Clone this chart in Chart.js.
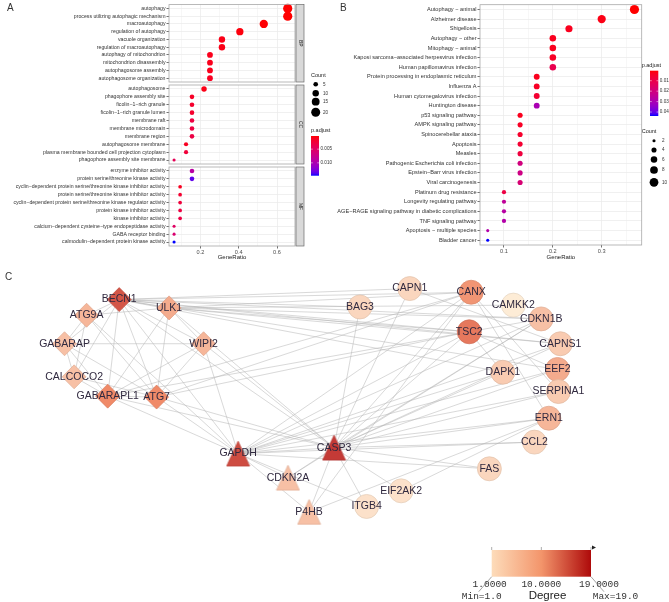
<!DOCTYPE html>
<html><head><meta charset="utf-8">
<script src="https://cdn.jsdelivr.net/npm/chart.js@4.4.0/dist/chart.umd.min.js"></script>
<style>
html,body{margin:0;padding:0;background:#fff;}
#wrap{position:relative;width:669px;height:602px;overflow:hidden;background:#fff;}
#wrap canvas{position:absolute;}
.pl{position:absolute;font-family:'Liberation Sans',Arial,sans-serif;font-size:10px;color:#333;}
</style></head><body>
<div id="wrap">
<canvas id="a1" width="335" height="265" style="left:0;top:0"></canvas>
<canvas id="a2" width="335" height="265" style="left:0;top:0"></canvas>
<canvas id="a3" width="335" height="265" style="left:0;top:0"></canvas>
<canvas id="b" width="334" height="265" style="left:335px;top:0"></canvas>
<canvas id="c" width="669" height="340" style="left:0;top:262px"></canvas>
<div class="pl" style="left:7px;top:2px">A</div>
<div class="pl" style="left:340px;top:2px">B</div>
<div class="pl" style="left:5px;top:271px">C</div>
</div>
<script>
// ---------------- DATA ----------------
const bpTerms = ['autophagy','process utilizing autophagic mechanism','macroautophagy','regulation of autophagy','vacuole organization','regulation of macroautophagy','autophagy of mitochondrion','mitochondrion disassembly','autophagosome assembly','autophagosome organization'];
const bpCount = [21,21,17,13,10,10,8,8,8,8];
const bpRatio = [0.656,0.656,0.531,0.406,0.3125,0.3125,0.25,0.25,0.25,0.25];
const bpPadj  = [0.0002,0.0002,0.0003,0.0005,0.0008,0.0008,0.001,0.001,0.001,0.0012];

const ccTerms = ['autophagosome','phagophore assembly site','ficolin\u22121\u2212rich granule','ficolin\u22121\u2212rich granule lumen','membrane raft','membrane microdomain','membrane region','autophagosome membrane','plasma membrane bounded cell projection cytoplasm','phagophore assembly site membrane'];
const ccCount = [7,5,5,5,5,5,5,4,4,2];
const ccRatio = [0.219,0.156,0.156,0.156,0.156,0.156,0.156,0.125,0.125,0.0625];
const ccPadj  = [0.0008,0.0015,0.0018,0.0018,0.003,0.003,0.0032,0.0012,0.0025,0.0042];

const mfTerms = ['enzyme inhibitor activity','protein serine/threonine kinase activity','cyclin\u2212dependent protein serine/threonine kinase inhibitor activity','protein serine/threonine kinase inhibitor activity','cyclin\u2212dependent protein serine/threonine kinase regulator activity','protein kinase inhibitor activity','kinase inhibitor activity','calcium\u2212dependent cysteine\u2212type endopeptidase activity','GABA receptor binding','calmodulin\u2212dependent protein kinase activity'];
const mfCount = [5,5,3,3,3,3,3,2,2,2];
const mfRatio = [0.156,0.156,0.094,0.094,0.094,0.094,0.094,0.0625,0.0625,0.0625];
const mfPadj  = [0.009,0.0135,0.0012,0.002,0.0026,0.003,0.0032,0.005,0.0058,0.0147];

const aTicks = [0.2,0.4,0.6];
const aMinor = [0.1,0.3,0.5];
const aCountKeys = [5,10,15,20];
const aPadjBreaks = [0.005,0.010];

const keggTerms = ['Autophagy \u2212 animal','Alzheimer disease','Shigellosis','Autophagy \u2212 other','Mitophagy \u2212 animal','Kaposi sarcoma\u2212associated herpesvirus infection','Human papillomavirus infection','Protein processing in endoplasmic reticulum','Influenza A','Human cytomegalovirus infection','Huntington disease','p53 signaling pathway','AMPK signaling pathway','Spinocerebellar ataxia','Apoptosis','Measles','Pathogenic Escherichia coli infection','Epstein\u2212Barr virus infection','Viral carcinogenesis','Platinum drug resistance','Longevity regulating pathway','AGE\u2212RAGE signaling pathway in diabetic complications','TNF signaling pathway','Apoptosis \u2212 multiple species','Bladder cancer'];
const keggCount = [11,9,7,6,6,6,6,5,5,5,5,4,4,4,4,4,4,4,4,3,3,3,3,2,2];
const keggRatio = [0.367,0.3,0.233,0.2,0.2,0.2,0.2,0.167,0.167,0.167,0.167,0.133,0.133,0.133,0.133,0.133,0.133,0.133,0.133,0.1,0.1,0.1,0.1,0.0667,0.0667];
const keggPadj  = [0.0004,0.002,0.003,0.003,0.003,0.004,0.011,0.003,0.004,0.006,0.03,0.003,0.004,0.005,0.006,0.008,0.02,0.021,0.018,0.009,0.025,0.027,0.028,0.028,0.0438];
const bTicks = [0.1,0.2,0.3];
const bMinor = [0.15,0.25,0.35];
const bCountKeys = [2,4,6,8,10];
const bPadjBreaks = [0.01,0.02,0.03,0.04];

const nodeNames = ['BECN1','ULK1','ATG9A','GABARAP','WIPI2','CALCOCO2','GABARAPL1','ATG7','GAPDH','CASP3','CDKN2A','P4HB','BAG3','CAPN1','CANX','CAMKK2','CDKN1B','TSC2','CAPNS1','DAPK1','EEF2','SERPINA1','ERN1','CCL2','FAS','EIF2AK2','ITGB4'];
const nodeShape = ['diamond','diamond','diamond','diamond','diamond','diamond','diamond','diamond','triangle','triangle','triangle','triangle','circle','circle','circle','circle','circle','circle','circle','circle','circle','circle','circle','circle','circle','circle','circle'];
const nodeDegree = [16,7,6,5,6,5,10,10,17,19,5,5,3,3,9,1,5,12,4,4,7,4,6,3,3,2,2];
const layoutX = [110,162,76,53,198,63,98,149,234,334,286,308,361,413,477,521,550,475,570,510,567,568,558,543,496,404,368];
const layoutY = [26,35,43,74,74,110,131,132,193.5,187,219.7,257,34,14,18,32,47,61,74,105,102,126,155,181,210,234,251];
const edgeList = [
 ['BECN1','ULK1'],['BECN1','ATG9A'],['BECN1','GABARAP'],['BECN1','WIPI2'],['BECN1','CALCOCO2'],['BECN1','GABARAPL1'],['BECN1','ATG7'],
 ['ULK1','ATG9A'],['ULK1','ATG7'],['ULK1','GABARAPL1'],['ULK1','WIPI2'],['ATG9A','GABARAP'],['ATG9A','ATG7'],['ATG9A','CALCOCO2'],
 ['GABARAP','WIPI2'],['GABARAP','GABARAPL1'],['GABARAP','CALCOCO2'],['GABARAP','ATG7'],['CALCOCO2','GABARAPL1'],['CALCOCO2','ATG7'],
 ['GABARAPL1','ATG7'],['WIPI2','ATG7'],['WIPI2','GABARAPL1'],
 ['BECN1','CASP3'],['BECN1','GAPDH'],['BECN1','TSC2'],['BECN1','CANX'],['BECN1','CAPN1'],['BECN1','BAG3'],['BECN1','DAPK1'],['BECN1','CDKN1B'],['BECN1','EEF2'],['BECN1','CAPNS1'],
 ['ULK1','TSC2'],['ULK1','CAMKK2'],['ULK1','CANX'],['ULK1','CDKN1B'],['ULK1','CASP3'],['ATG7','CASP3'],['ATG7','GAPDH'],['ATG7','TSC2'],['ATG7','CANX'],
 ['GABARAPL1','GAPDH'],['GABARAPL1','CASP3'],['GABARAPL1','CANX'],['GABARAPL1','TSC2'],
 ['WIPI2','GAPDH'],['WIPI2','CASP3'],['ATG9A','GAPDH'],['ULK1','CAPNS1'],
 ['CASP3','GAPDH'],['CASP3','CDKN2A'],['CASP3','P4HB'],['CASP3','ITGB4'],['CASP3','EIF2AK2'],['CASP3','FAS'],['CASP3','CCL2'],['CASP3','ERN1'],['CASP3','SERPINA1'],
 ['CASP3','EEF2'],['CASP3','DAPK1'],['CASP3','TSC2'],['CASP3','CANX'],['CASP3','CDKN1B'],['CASP3','CAPNS1'],['CASP3','CAPN1'],['CASP3','BAG3'],
 ['GAPDH','CDKN2A'],['GAPDH','P4HB'],['GAPDH','TSC2'],['GAPDH','CANX'],['GAPDH','EEF2'],['GAPDH','ERN1'],['GAPDH','SERPINA1'],['GAPDH','CCL2'],['GAPDH','FAS'],
 ['GAPDH','CAPNS1'],['GAPDH','CDKN1B'],['GAPDH','ITGB4'],['GAPDH','DAPK1'],
 ['TSC2','CDKN1B'],['TSC2','DAPK1'],['TSC2','EEF2'],['CANX','ERN1'],['CANX','P4HB'],['CANX','SERPINA1'],['CAPN1','CAPNS1'],['P4HB','ERN1'],['CDKN2A','CDKN1B'],['ERN1','EIF2AK2']
];

// ---------------- HELPERS ----------------
Chart.defaults.font.family = "'Liberation Sans', Arial, sans-serif";
const FONT = "'Liberation Sans', Arial, sans-serif";
function sLin(c){c/=255;return c<=0.04045?c/12.92:Math.pow((c+0.055)/1.055,2.4);}
function lS(v){v=v<=0.0031308?12.92*v:1.055*Math.pow(v,1/2.4)-0.055;return Math.round(Math.max(0,Math.min(1,v))*255);}
function rgb2lab(c){const R=sLin(c[0]),G=sLin(c[1]),B=sLin(c[2]);
 const X=(0.4124*R+0.3576*G+0.1805*B)/0.95047,Y=0.2126*R+0.7152*G+0.0722*B,Z=(0.0193*R+0.1192*G+0.9505*B)/1.08883;
 const f=t=>t>0.008856?Math.cbrt(t):7.787*t+16/116;const fx=f(X),fy=f(Y),fz=f(Z);
 return [116*fy-16,500*(fx-fy),200*(fy-fz)];}
function lab2rgb(l){const fy=(l[0]+16)/116,fx=fy+l[1]/500,fz=fy-l[2]/200;
 const fi=t=>{const t3=t*t*t;return t3>0.008856?t3:(t-16/116)/7.787;};
 const X=fi(fx)*0.95047,Y=fi(fy),Z=fi(fz)*1.08883;
 return [lS(3.2406*X-1.5372*Y-0.4986*Z),lS(-0.9689*X+1.8758*Y+0.0415*Z),lS(0.0557*X-0.2040*Y+1.0570*Z)];}
const LAB_LO=rgb2lab([255,0,0]),LAB_HI=rgb2lab([0,0,255]);
function padjColor(t){t=Math.max(0,Math.min(1,t));const c=lab2rgb([0,1,2].map(k=>LAB_LO[k]+(LAB_HI[k]-LAB_LO[k])*t));return 'rgb('+c.join(',')+')';}
function sizeOf(c,cmin,cmax){const r0=1.55,r1=4.6;return Math.sqrt(r0*r0+(r1*r1-r0*r0)*(c-cmin)/(cmax-cmin));}
function near(v,arr){return arr.some(m=>Math.abs(m-v)<1e-9);}

const aAllCounts=bpCount.concat(ccCount,mfCount), aAllPadj=bpPadj.concat(ccPadj,mfPadj);
const aCfg={cmin:Math.min(...aAllCounts),cmax:Math.max(...aAllCounts),pmin:Math.min(...aAllPadj),pmax:Math.max(...aAllPadj)};
const bCfg={cmin:Math.min(...keggCount),cmax:Math.max(...keggCount),pmin:Math.min(...keggPadj),pmax:Math.max(...keggPadj)};

function panelPlugin(strip){return {id:'panel',afterDraw(chart){const {ctx,chartArea:a}=chart;ctx.save();
 ctx.strokeStyle='#a8a8a8';ctx.lineWidth=0.8;ctx.strokeRect(a.left,a.top,a.width,a.height);
 if(strip){ctx.fillStyle='#d9d9d9';ctx.fillRect(a.right+1,a.top,8,a.height);ctx.strokeStyle='#6a6a6a';ctx.lineWidth=0.7;ctx.strokeRect(a.right+1,a.top,8,a.height);
  ctx.translate(a.right+5,(a.top+a.bottom)/2);ctx.rotate(Math.PI/2);ctx.fillStyle='#1a1a1a';ctx.font='5px '+FONT;ctx.textAlign='center';ctx.textBaseline='middle';ctx.fillText(strip,0,0);}
 ctx.restore();}};}

function legendPlugin(L){return {id:'leg',afterDraw(chart){const ctx=chart.ctx;ctx.save();ctx.fillStyle='#1a1a1a';ctx.textBaseline='middle';ctx.textAlign='left';
 ctx.font='5.5px '+FONT;ctx.fillText('p.adjust',L.px,L.pTitleY);
 const g=ctx.createLinearGradient(0,L.barTop,0,L.barBot);for(let i=0;i<=20;i++){g.addColorStop(i/20,padjColor(i/20));}
 ctx.fillStyle=g;ctx.fillRect(L.barX,L.barTop,L.barW,L.barBot-L.barTop);
 ctx.font='4.6px '+FONT;
 L.breaks.forEach(p=>{const y=L.barTop+(p-L.cfg.pmin)/(L.cfg.pmax-L.cfg.pmin)*(L.barBot-L.barTop);
  ctx.strokeStyle='#fff';ctx.lineWidth=0.5;ctx.beginPath();ctx.moveTo(L.barX,y);ctx.lineTo(L.barX+1.8,y);ctx.moveTo(L.barX+L.barW-1.8,y);ctx.lineTo(L.barX+L.barW,y);ctx.stroke();
  ctx.fillStyle='#333';ctx.fillText(L.fmt(p),L.barX+L.barW+1.5,y);});
 ctx.fillStyle='#1a1a1a';ctx.font='5.5px '+FONT;ctx.fillText('Count',L.cx0,L.cTitleY);
 L.keys.forEach((c,i)=>{const r=sizeOf(c,L.cfg.cmin,L.cfg.cmax);ctx.fillStyle='#000';ctx.beginPath();ctx.arc(L.dotX,L.dotY[i],r,0,Math.PI*2);ctx.fill();
  ctx.fillStyle='#333';ctx.font='4.6px '+FONT;ctx.fillText(String(c),L.labX,L.dotY[i]);});
 ctx.restore();}};}

function dotChart(id,terms,ratio,count,padj,cfg,o){
 const gridVals=o.major.concat(o.minor).filter(v=>v>o.xmin&&v<o.xmax);
 return new Chart(document.getElementById(id),{type:'scatter',
  data:{labels:terms,datasets:[{data:terms.map((t,i)=>({x:ratio[i],y:t})),
   pointRadius:count.map(c=>sizeOf(c,cfg.cmin,cfg.cmax)),pointHoverRadius:count.map(c=>sizeOf(c,cfg.cmin,cfg.cmax)),
   pointBackgroundColor:padj.map(p=>padjColor((p-cfg.pmin)/(cfg.pmax-cfg.pmin))),pointBorderWidth:0,clip:false}]},
  options:{responsive:false,animation:false,events:[],layout:{padding:o.padding},
   plugins:{legend:{display:false},tooltip:{enabled:false}},
   scales:{
    x:{type:'linear',min:o.xmin,max:o.xmax,
     afterBuildTicks:s=>{s.ticks=gridVals.map(v=>({value:v}));},
     ticks:{display:o.showX,autoSkip:false,maxRotation:0,padding:0.5,font:{size:5.6},color:'#4d4d4d',callback:v=>near(v,o.major)?String(v):''},
     grid:{color:'#ebebeb',lineWidth:c=>(c.tick&&near(c.tick.value,o.major))?0.75:0.4,drawTicks:o.showX,tickLength:2.5,
      tickColor:c=>(c.tick&&near(c.tick.value,o.major))?'#444':'rgba(0,0,0,0)'},
     border:{display:false},
     title:{display:o.showX,text:'GeneRatio',font:{size:6},color:'#1a1a1a',padding:0},
     afterFit:s=>{s.height=o.xH;s.paddingLeft=0;s.paddingRight=0;}},
    y:{type:'category',labels:terms,offset:true,
     ticks:{autoSkip:false,font:{size:o.yFont},color:'#333',padding:1},
     grid:{color:'#ebebeb',lineWidth:0.75,offset:false,drawTicks:true,tickLength:2.5,tickColor:'#444'},
     border:{display:false},
     afterFit:s=>{s.width=o.yW;s.paddingTop=0;s.paddingBottom=0;}}
   }},
  plugins:[panelPlugin(o.strip)].concat(o.legend?[legendPlugin(o.legend)]:[])});
}

// ---------------- PANEL A ----------------
const aX={xmin:0.036,xmax:0.694,major:aTicks,minor:aMinor,yW:169,yFont:5.2};
dotChart('a1',bpTerms,bpRatio,bpCount,bpPadj,aCfg,Object.assign({},aX,{padding:{left:0,right:40,top:3,bottom:183},showX:false,xH:0,strip:'BP'}));
dotChart('a2',ccTerms,ccRatio,ccCount,ccPadj,aCfg,Object.assign({},aX,{padding:{left:0,right:40,top:85,bottom:101},showX:false,xH:0,strip:'CC'}));
dotChart('a3',mfTerms,mfRatio,mfCount,mfPadj,aCfg,Object.assign({},aX,{padding:{left:0,right:40,top:167,bottom:4},showX:true,xH:15,strip:'MF',
 legend:{cfg:aCfg,px:311,pTitleY:130,barX:311,barW:8,barTop:136,barBot:175.7,breaks:aPadjBreaks,fmt:p=>p.toFixed(3),
  cx0:311,cTitleY:75,keys:aCountKeys,dotX:315.7,dotY:[84.3,93.3,101.7,112.3],labX:323}}));

// ---------------- PANEL B ----------------
dotChart('b',keggTerms,keggRatio,keggCount,keggPadj,bCfg,{xmin:0.0509,xmax:0.3819,major:bTicks,minor:bMinor,yW:145,yFont:5.6,
 padding:{left:0,right:27.3,top:4.7,bottom:4.5},showX:true,xH:15.5,strip:null,
 legend:{cfg:bCfg,px:306.7,pTitleY:65,barX:315,barW:8.3,barTop:70.7,barBot:116,breaks:bPadjBreaks,fmt:p=>p.toFixed(2),
  cx0:306.7,cTitleY:131,keys:bCountKeys,dotX:319,dotY:[140.7,150,159.5,170,182.3],labX:327}});

// ---------------- PANEL C (network) ----------------
const degMin=Math.min(...nodeDegree),degMax=Math.max(...nodeDegree);
function mix(a,b,t){return a.map((v,i)=>Math.round(v+(b[i]-v)*t));}
function degRGB(d){const t=(d-degMin)/(degMax-degMin);const s0=[253,236,214],s1=[240,138,104],s2=[196,58,54];
 return t<0.5?mix(s0,s1,t/0.5):mix(s1,s2,(t-0.5)/0.5);}
function rgbStr(c){return 'rgb('+c.join(',')+')';}
function triangleStyle(fill,stroke){const c=document.createElement('canvas');c.width=25;c.height=27;const x=c.getContext('2d');
 x.beginPath();x.moveTo(12.5,1);x.lineTo(24,26);x.lineTo(1,26);x.closePath();x.fillStyle=fill;x.fill();x.strokeStyle=stroke;x.lineWidth=0.7;x.stroke();return c;}
const nodePts=nodeNames.map((n,i)=>({x:layoutX[i],y:layoutY[i]}));
const nIdx={};nodeNames.forEach((n,i)=>nIdx[n]=i);
const radMap={diamond:12,triangle:13,circle:12};
const nodeFill=nodeDegree.map(d=>degRGB(d));
const nodeStroke=nodeFill.map(c=>c.map(v=>Math.round(v*0.9)));
const edgeSets=edgeList.map(e=>({type:'scatter',showLine:true,data:[Object.assign({},nodePts[nIdx[e[0]]]),Object.assign({},nodePts[nIdx[e[1]]])],
 borderColor:'rgba(180,180,180,0.72)',borderWidth:0.7,pointRadius:0,pointHoverRadius:0,order:2,clip:false}));
const nodeSet={type:'scatter',data:nodePts.map(p=>Object.assign({},p)),order:0,clip:false,
 pointStyle:nodeShape.map((s,i)=>s==='diamond'?'rectRot':s==='triangle'?triangleStyle(rgbStr(nodeFill[i]),rgbStr(nodeStroke[i])):'circle'),
 pointRadius:nodeShape.map(s=>radMap[s]),pointHoverRadius:nodeShape.map(s=>radMap[s]),
 pointBackgroundColor:nodeFill.map(rgbStr),pointBorderColor:nodeStroke.map(rgbStr),pointBorderWidth:0.7};

const netPlugin={id:'net',afterDatasetsDraw(chart){const ctx=chart.ctx,xs=chart.scales.x,ys=chart.scales.y;ctx.save();
 ctx.font='10.5px '+FONT;ctx.fillStyle='#30293f';ctx.textAlign='center';ctx.textBaseline='middle';
 nodeNames.forEach((n,i)=>{ctx.fillText(n,xs.getPixelForValue(layoutX[i]),ys.getPixelForValue(layoutY[i]));});
 // degree colour bar legend
 const bx0=491.7,bx1=591,by0=288,by1=314.7;
 const g=ctx.createLinearGradient(bx0,0,bx1,0);g.addColorStop(0,'#fddcba');g.addColorStop(0.5,'#f3956b');g.addColorStop(1,'#ae0a0a');
 ctx.fillStyle=g;ctx.fillRect(bx0,by0,bx1-bx0,by1-by0);
 ctx.strokeStyle='#888';ctx.lineWidth=0.7;ctx.beginPath();
 [bx0,(bx0+bx1)/2,bx1].forEach(x=>{ctx.moveTo(x,by0-3);ctx.lineTo(x,by0);});ctx.stroke();
 ctx.fillStyle='#222';ctx.beginPath();ctx.moveTo(bx1+1,by0-4.5);ctx.lineTo(bx1+5,by0-2.5);ctx.lineTo(bx1+1,by0-0.5);ctx.fill();
 ctx.font="9.5px 'Liberation Mono', monospace";ctx.fillStyle='#333';
 const mid=(degMin+degMax)/2;
 ctx.fillText(degMin.toFixed(4),bx0-2,by1+7.5);ctx.fillText(mid.toFixed(4),(bx0+bx1)/2,by1+7.5);ctx.fillText(degMax.toFixed(4),bx1+8,by1+7.5);
 ctx.fillText('Min='+degMin.toFixed(1),bx0-10,by1+19.5);ctx.fillText('Max='+degMax.toFixed(1),bx1+24.5,by1+19.5);
 ctx.font='11.5px '+FONT;ctx.fillStyle='#222';ctx.fillText('Degree',547.5,by1+19.5);
 ctx.strokeStyle='#666';ctx.lineWidth=0.6;ctx.beginPath();ctx.moveTo(bx0,by1);ctx.lineTo(bx0-13,by1+15);ctx.moveTo(bx1,by1);ctx.lineTo(bx1+13,by1+15);ctx.stroke();
 ctx.restore();}};

new Chart(document.getElementById('c'),{type:'scatter',data:{datasets:[nodeSet].concat(edgeSets)},
 options:{responsive:false,animation:false,events:[],layout:{padding:0},
  plugins:{legend:{display:false},tooltip:{enabled:false}},
  scales:{x:{type:'linear',min:0,max:669,display:false},y:{type:'linear',min:0,max:340,reverse:true,display:false}}},
 plugins:[netPlugin]});
</script>
</body></html>
